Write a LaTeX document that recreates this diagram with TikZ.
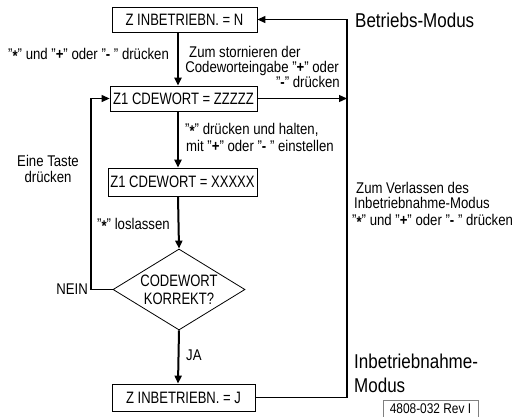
\documentclass[tikz,border=0pt]{standalone}
\usepackage{fontspec}
\setmainfont{Liberation Sans}[FakeStretch=0.85]
\newfontfamily\boxfont{Liberation Sans}[FakeStretch=0.79]
\usetikzlibrary{arrows.meta,shapes.geometric}
\newcommand{\qstar}{\raisebox{-0.35ex}{\textbf{*}}}
\newcommand{\qplus}{\textbf{+}}
\newcommand{\qminus}{\textbf{-}}
\begin{document}
\begin{tikzpicture}[x=1pt,y=-1pt,
  box/.style={draw, line width=0.8pt, inner sep=0pt, font=\boxfont\fontsize{16.5}{19}\selectfont},
  lbl/.style={inner sep=0pt, anchor=base west, font=\fontsize{15.5}{17}\selectfont},
  lble/.style={inner sep=0pt, anchor=base east, font=\fontsize{15.5}{17}\selectfont},
  big/.style={inner sep=0pt, anchor=base west, font=\fontsize{20}{24}\selectfont},
  tip/.style={-{Triangle[length=8pt,width=7pt]}},
  main/.style={line width=2pt, tip},
  loop/.style={line width=1.2pt}]
\useasboundingbox (0,0) rectangle (519,416);
% boxes
\node[box, minimum width=145pt, minimum height=25pt] (b1) at (184.5,19.5) {Z INBETRIEBN. = N};
\node[box, minimum width=147pt, minimum height=25pt] (b2) at (183.5,98.5) {Z1 CDEWORT = ZZZZZ};
\node[box, minimum width=149pt, minimum height=28pt] (b3) at (182.5,182) {Z1 CDEWORT = XXXXX};
\node[draw, line width=0.8pt, diamond, shape aspect=1.63, inner sep=0pt,
      minimum width=132pt, minimum height=81pt, align=center,
      font=\boxfont\fontsize{16.5}{18}\selectfont] (d) at (179,289.5) {CODEWORT\\KORREKT?};
\node[box, minimum width=143pt, minimum height=27pt] (b5) at (183.5,397.5) {Z INBETRIEBN. = J};
% helper coordinates
\coordinate (cx) at (178,0);
\coordinate (rx) at (347,0);
\coordinate (lx) at (91,0);
% main flow
\draw[main] (b1.south -| cx) -- (b2.north -| cx);
\draw[main] (b2.south -| cx) -- (b3.north -| cx);
\draw[main] (b3.south -| cx) -- (d.north);
\draw[main] (d.south) -- (b5.north -| cx);
% right loop
\draw[loop, tip] (b5.east) -- (b5.east -| rx) -- (b1.east -| rx) -- (b1.east);
\draw[loop, tip] (b2.east) -- (b2.east -| rx);
% left loop
\draw[loop, tip] (d.west) -- (d.west -| lx) -- (b2.west -| lx) -- (b2.west);
% labels
\node[lbl] (l1) at (8,59) {"\qstar" und "\qplus" oder "\qminus\ " drücken};
\node[lbl] (l2a) at (189,57) {Zum stornieren der};
\node[lble] (l2b) at (339,72) {Codeworteingabe "\qplus" oder};
\node[lble] (l2c) at (340,87) {"\qminus" drücken};
\node[lbl] (l3a) at (185,134) {"\qstar" drücken und halten,};
\node[lbl] (l3b) at (186,151) {mit "\qplus" oder "\qminus\ " einstellen};
\node[inner sep=0pt, align=center, font=\fontsize{15.5}{16}\selectfont] (l4) at (48,169) {Eine Taste\\drücken};
\node[lbl] (l5) at (97,229) {"\qstar" loslassen};
\node[lble] (l6) at (88,294) {NEIN};
\node[lbl] (l7) at (186,360) {JA};
\node[lbl] (l8a) at (356,193) {Zum Verlassen des};
\node[lbl] (l8b) at (354,208) {Inbetriebnahme-Modus};
\node[lbl] (l8c) at (352,225) {"\qstar" und "\qplus" oder "\qminus\ " drücken};
\node[big] (m1) at (355,27) {Betriebs-Modus};
\node[big] (m2a) at (354,368) {Inbetriebnahme-};
\node[big] (m2b) at (354,392) {Modus};
\node[draw=black!50, line width=0.6pt, minimum width=95pt, minimum height=18pt, inner sep=0pt,
      font=\fontsize{14}{16}\selectfont] (rev) at (430.5,409) {4808-032 Rev I};
\end{tikzpicture}
\end{document}
